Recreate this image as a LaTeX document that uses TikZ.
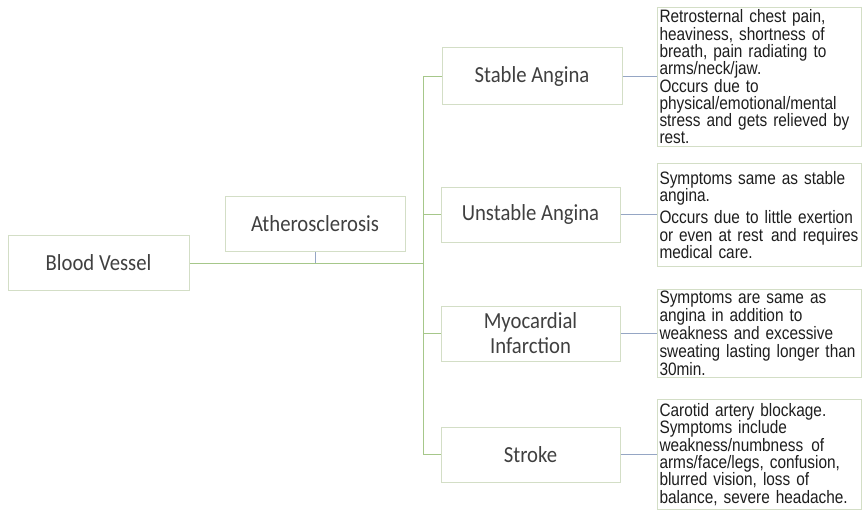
\documentclass[tikz,border=0pt]{standalone}
\usepackage{fontspec}
\newfontfamily\labfont[FakeStretch=0.9]{Carlito}
\newfontfamily\descfont[FakeStretch=0.855]{Liberation Sans}
\definecolor{boxc}{HTML}{D3DEC6}
\definecolor{trunkc}{HTML}{A6C78A}
\definecolor{stemc}{HTML}{95A6C4}
\definecolor{labc}{HTML}{404040}
\definecolor{txtc}{HTML}{1E1E1E}
\newcommand{\oneline}[1]{\mbox{#1}}
\begin{document}
\begin{tikzpicture}[x=1pt,y=-1pt,
  lab/.style={draw=boxc, line width=1pt, minimum width=180pt, minimum height=55pt,
    inner sep=0pt, align=center, text=labc, font=\labfont\fontsize{23}{25}\selectfont},
  desc/.style={draw=boxc, line width=1pt, anchor=north west, text width=200pt,
    inner sep=2pt, align=left, text=txtc, font=\descfont\fontsize{18}{17.3}\selectfont},
  trunk/.style={draw=trunkc, line width=1pt},
  stem/.style={draw=stemc, line width=1pt}]
\useasboundingbox (0,0) rectangle (862,509);
\fill[white] (0,0) rectangle (862,509);

\node[lab, minimum width=181pt] (bv) at (98.5,262.5) {Blood Vessel};
\node[lab] (ath) at (315,223.5) {Atherosclerosis};
\node[lab, minimum height=57pt] (sa) at (532,76) {Stable Angina};
\node[lab, minimum width=179pt] (ua) at (530.5,214.5) {Unstable Angina};
\node[lab, minimum width=179pt] (mi) at (530.5,333.5) {Myocardial\\Infarction};
\node[lab, minimum width=179pt] (st) at (530.5,454.5) {Stroke};

\node[desc, minimum height=139pt] (t1) at (657,7) {\oneline{Retrosternal chest pain,}\\\oneline{heaviness, shortness of}\\\oneline{breath, pain radiating to}\\\oneline{arms/neck/jaw.}\\\oneline{Occurs due to}\\\oneline{physical/emotional/mental}\\\oneline{stress and gets relieved by}\\\oneline{rest.}};
\node[desc, minimum height=103pt] (t2) at (657,163) {\oneline{Symptoms same as stable}\\\oneline{angina.}\\[5pt]\oneline{Occurs due to little exertion}\\\oneline{or even at rest\hspace{0.45em}and requires}\\\oneline{medical care.}};
\node[desc, minimum height=88pt, inner ysep=1pt, font=\descfont\fontsize{18}{18}\selectfont] (t3) at (657,289) {\oneline{Symptoms are same as}\\\oneline{angina in addition to}\\\oneline{weakness and excessive}\\\oneline{sweating lasting longer than}\\\oneline{30min.}};
\node[desc, minimum height=110pt] (t4) at (657,399) {\oneline{Carotid artery blockage.}\\\oneline{Symptoms include}\\\oneline{weakness/numbness\hspace{0.45em}of}\\\oneline{arms/face/legs, confusion,}\\\oneline{blurred vision, loss of}\\\oneline{balance, severe headache.}};

\coordinate (j) at (423,263);
\draw[trunk] (bv.east |- j) -- (j);
\draw[stem] (ath.south) -- (ath.south |- j);
\draw[trunk] (j) |- (sa.west);
\draw[trunk] (j) |- (ua.west);
\draw[trunk] (j) |- (mi.west);
\draw[trunk] (j) |- (st.west);
\draw[stem] (sa.east) -- (sa.east -| t1.west);
\draw[stem] (ua.east) -- (ua.east -| t2.west);
\draw[stem] (mi.east) -- (mi.east -| t3.west);
\draw[stem] (st.east) -- (st.east -| t4.west);
\end{tikzpicture}
\end{document}
